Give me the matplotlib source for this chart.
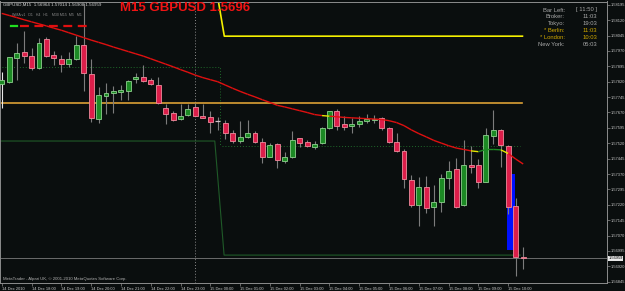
import matplotlib
matplotlib.use("Agg")
import matplotlib.pyplot as plt
from matplotlib.patches import Rectangle
from matplotlib.collections import LineCollection
from matplotlib.lines import Line2D

# GBPUSD M15, bars from 14 Dec 17:00 to 15 Dec 10:30
opens = [1.57807, 1.57820, 1.57937, 1.57963, 1.57945, 1.57885, 1.58029, 1.57948, 1.57929, 1.57905,
         1.57929, 1.57999, 1.57857, 1.57636, 1.57750, 1.57763, 1.57770, 1.57776, 1.57831, 1.57841,
         1.57828, 1.57804, 1.57690, 1.57666, 1.57636, 1.57656, 1.57695, 1.57653, 1.57646, 1.57626,
         1.57617, 1.57571, 1.57532, 1.57552, 1.57568, 1.57527, 1.57454, 1.57515, 1.57435, 1.57451,
         1.57544, 1.57526, 1.57500, 1.57520, 1.57596, 1.57675, 1.57614, 1.57604, 1.57612, 1.57628,
         1.57632, 1.57641, 1.57593, 1.57524, 1.57482, 1.57341, 1.57219, 1.57305, 1.57211, 1.57232,
         1.57349, 1.57393, 1.57219, 1.57414, 1.57414, 1.57332, 1.57557, 1.57584, 1.57506, 1.57214,
         1.56964]
highs = [1.57868, 1.57942, 1.58007, 1.58067, 1.57983, 1.58033, 1.58036, 1.57969, 1.57950, 1.57966,
         1.58042, 1.58202, 1.57929, 1.57792, 1.57815, 1.57799, 1.57804, 1.57828, 1.57864, 1.57901,
         1.57836, 1.57844, 1.57711, 1.57677, 1.57711, 1.57711, 1.57717, 1.57711, 1.57678, 1.57648,
         1.57633, 1.57584, 1.57630, 1.57633, 1.57581, 1.57544, 1.57520, 1.57520, 1.57479, 1.57579,
         1.57547, 1.57536, 1.57532, 1.57597, 1.57678, 1.57685, 1.57653, 1.57641, 1.57653, 1.57662,
         1.57657, 1.57646, 1.57600, 1.57568, 1.57490, 1.57365, 1.57357, 1.57360, 1.57316, 1.57368,
         1.57433, 1.57446, 1.57536, 1.57506, 1.57443, 1.57596, 1.57682, 1.57588, 1.57511, 1.57254,
         1.57014]
lows = [1.57690, 1.57815, 1.57828, 1.57912, 1.57877, 1.57880, 1.57942, 1.57901, 1.57868, 1.57893,
        1.57925, 1.57776, 1.57625, 1.57620, 1.57662, 1.57666, 1.57731, 1.57731, 1.57815, 1.57820,
        1.57804, 1.57711, 1.57612, 1.57630, 1.57633, 1.57653, 1.57651, 1.57641, 1.57568, 1.57584,
        1.57539, 1.57522, 1.57522, 1.57544, 1.57520, 1.57422, 1.57452, 1.57401, 1.57425, 1.57449,
        1.57503, 1.57500, 1.57490, 1.57516, 1.57588, 1.57584, 1.57584, 1.57568, 1.57600, 1.57617,
        1.57617, 1.57584, 1.57520, 1.57479, 1.57304, 1.57208, 1.57118, 1.57181, 1.57118, 1.57186,
        1.57295, 1.57203, 1.57214, 1.57376, 1.57303, 1.57330, 1.57516, 1.57405, 1.57175, 1.56873,
        1.56908]
closes = [1.57828, 1.57939, 1.57958, 1.57945, 1.57885, 1.58007, 1.57946, 1.57934, 1.57906, 1.57929,
          1.57999, 1.57861, 1.57641, 1.57755, 1.57766, 1.57774, 1.57779, 1.57823, 1.57843, 1.57825,
          1.57807, 1.57714, 1.57661, 1.57633, 1.57654, 1.57688, 1.57653, 1.57643, 1.57625, 1.57627,
          1.57571, 1.57532, 1.57549, 1.57568, 1.57527, 1.57454, 1.57511, 1.57438, 1.57451, 1.57536,
          1.57522, 1.57506, 1.57516, 1.57593, 1.57675, 1.57605, 1.57597, 1.57614, 1.57628, 1.57638,
          1.57639, 1.57593, 1.57524, 1.57483, 1.57344, 1.57219, 1.57305, 1.57203, 1.57232, 1.57349,
          1.57386, 1.57211, 1.57414, 1.57405, 1.57332, 1.57560, 1.57584, 1.57511, 1.57211, 1.56964,
          1.56959]

# moving average (colour changes on a few segments)
wma = [1.58153, 1.58143, 1.58133, 1.58122, 1.58112, 1.58102, 1.58092, 1.58081, 1.58071, 1.58059,
       1.58047, 1.58035, 1.58023, 1.58012, 1.58001, 1.57989, 1.57978, 1.57967, 1.57956, 1.57945,
       1.57932, 1.57919, 1.57906, 1.57893, 1.57879, 1.57866, 1.57852, 1.57840, 1.57830, 1.57820,
       1.57804, 1.57788, 1.57773, 1.57759, 1.57746, 1.57732, 1.57719, 1.57705, 1.57697, 1.57688,
       1.57679, 1.57670, 1.57660, 1.57655, 1.57652, 1.57649, 1.57646, 1.57644, 1.57642, 1.57640,
       1.57638, 1.57636, 1.57630, 1.57621, 1.57606, 1.57585, 1.57567, 1.57551, 1.57534, 1.57521,
       1.57508, 1.57497, 1.57490, 1.57483, 1.57479, 1.57490, 1.57490, 1.57488, 1.57470, 1.57443,
       1.57419]
wma_yellow = [43, 63, 67]
wma_green = [64, 65, 66]

orange_level = 1.57714
yellow_level = 1.58042
yellow_prev = 1.58230
box_top = 1.57890
box_mid = 1.57506
range_hi = 1.57531
range_lo = 1.56975
blue_lo, blue_hi = 1.57002, 1.57370
bid = 1.56959
day_sep = 26

time_labels = ["14 Dec 2010", "14 Dec 18:00", "14 Dec 19:00", "14 Dec 20:00", "14 Dec 21:00",
               "14 Dec 22:00", "14 Dec 23:00", "15 Dec 00:00", "15 Dec 01:00", "15 Dec 02:00",
               "15 Dec 03:00", "15 Dec 04:00", "15 Dec 05:00", "15 Dec 06:00", "15 Dec 07:00",
               "15 Dec 08:00", "15 Dec 09:00", "15 Dec 10:00"]
price_ticks = [1.58195, 1.58120, 1.58045, 1.57970, 1.57895, 1.57820, 1.57745, 1.57670, 1.57595,
               1.57520, 1.57445, 1.57370, 1.57295, 1.57220, 1.57145, 1.57070, 1.56995, 1.56920,
               1.56845]

info_labels = ["Bar Left:", "Broker:", "Tokyo:", "* Berlin:", "* London:", "New York:"]
info_values = ["[ 11:50 ]", "11:03", "19:03", "11:03", "10:03", "05:03"]
info_gold = [False, False, False, True, True, False]

BG = "#0a0e0e"
W, H = 625, 291

def fx(x):
    return x / W

def fy(y):
    return 1 - y / H

fig = plt.figure(figsize=(6.25, 2.91), dpi=100, facecolor=BG)
ax = fig.add_axes([0.0, fy(283), fx(607), (283 - 1.5) / H], facecolor=BG)
ax.set_xlim(-0.23, 81.25)
ax.set_ylim(1.56839, 1.58211)

n = len(opens)

# background studies
ax.axvline(day_sep, color="#8a8a8a", lw=0.7, ls=(0, (1, 2)), zorder=1)
ax.plot([-0.3, 28.6, 29.85, 69.6], [range_hi, range_hi, range_lo, range_lo],
        color="#1f5a28", lw=0.8, zorder=1)
ax.plot([-0.3, 29.3, 29.3], [box_top, box_top, box_mid], color="#1f6a2a", lw=0.7,
        ls=(0, (1, 2)), zorder=1)
ax.plot([29.6, 69.6], [box_mid, box_mid], color="#1f6a2a", lw=0.7, ls=(0, (1, 2)), zorder=1)
ax.axhline(bid, color="#7a7a7a", lw=0.6, zorder=1)
ax.plot([-0.3, 69.9], [orange_level, orange_level], color="#dca035", lw=1.2, zorder=2)
ax.plot([29.0, 29.88, 69.9], [yellow_prev, yellow_level, yellow_level], color="#f5f000",
        lw=1.2, zorder=2)
ax.add_patch(Rectangle((67.87, blue_lo), 1.03, blue_hi - blue_lo, facecolor="#0010ff",
                       edgecolor="none", zorder=2))

# candles
for i in range(n):
    o, h, l, c = opens[i], highs[i], lows[i], closes[i]
    wick = "#e8e8e8" if i == 0 else "#7c7c7c"
    ax.vlines(i, l, h, color=wick, lw=0.8, zorder=3)
    if abs(c - o) < 0.00003:
        ax.hlines(c, i - 0.33, i + 0.33, color="#d0c0c8", lw=0.9, zorder=4)
        continue
    if c > o:
        fc, ec = "#1c8a24", "#8fd08f"
    else:
        fc, ec = "#dc1e4a", "#f08a9c"
    ax.add_patch(Rectangle((i - 0.33, min(o, c)), 0.66, abs(c - o), facecolor=fc,
                           edgecolor=ec, lw=0.6, zorder=4))

# moving average
segs, cols = [], []
for i in range(n - 1):
    segs.append([(i, wma[i]), (i + 1, wma[i + 1])])
    if i in wma_yellow:
        cols.append("#e6e600")
    elif i in wma_green:
        cols.append("#1f8a24")
    else:
        cols.append("#e01010")
ax.add_collection(LineCollection(segs, colors=cols, linewidths=1.0, zorder=5))

# axes styling
for s in ax.spines.values():
    s.set_color("#8c8c8c")
    s.set_linewidth(0.7)
ax.yaxis.tick_right()
ax.set_yticks(price_ticks)
ax.set_yticklabels(["%.5f" % p for p in price_ticks])
ax.set_xticks(range(0, 4 * len(time_labels), 4))
ax.set_xticklabels(time_labels)
for lbl in ax.get_xticklabels():
    lbl.set_ha("left")
ax.tick_params(axis="both", colors="#8c8c8c", labelcolor="#c8c8c8", labelsize=2.9,
               length=2.0, width=0.5, pad=0.8)
for lbl in ax.get_xticklabels() + ax.get_yticklabels():
    lbl.set_family("Liberation Sans")

ax.text(1.002, bid, "%.5f" % bid, transform=ax.get_yaxis_transform(), fontsize=2.9,
        color="#000000", va="center", ha="left", family="Liberation Sans",
        bbox=dict(facecolor="#e8e8e8", edgecolor="none", pad=0.5), zorder=6, clip_on=False)

# overlay texts
fig.text(fx(3), fy(4.5), "GBPUSD,M15  1.56964 1.57014 1.56908 1.56959", fontsize=3.2,
         color="#d8d8d8", va="center", ha="left", family="Liberation Sans")
fig.text(fx(120), fy(8), "M15 GBPUSD 1.5696", fontsize=9.5, fontweight="bold",
         color="#f01414", va="center", ha="left", family="Liberation Sans")
fig.text(fx(12), fy(15), "WMA v1   D1   H4   H1    M30 M15  M5   M1", fontsize=2.6,
         color="#8a8a8a", va="center", ha="left", family="Liberation Sans")
fig.add_artist(Line2D([fx(11), fx(17)], [fy(26), fy(26)], color="#20e020", lw=1.6))
fig.add_artist(Line2D([fx(20), fx(92)], [fy(26), fy(26)], color="#e01010", lw=1.6,
                      ls=(0, (4, 2.5))))
for k in range(len(info_labels)):
    col = "#d0a800" if info_gold[k] else "#a8a8a8"
    yy = fy(10 + 6.9 * k)
    fig.text(fx(565), yy, info_labels[k], fontsize=4.2, color=col, va="center", ha="right",
             family="Liberation Sans")
    fig.text(fx(597), yy, info_values[k], fontsize=4.2, color=col, va="center", ha="right",
             family="Liberation Sans")
fig.text(fx(3), fy(279), "MetaTrader - Alpari UK, \u00a9 2001-2010 MetaQuotes Software Corp.",
         fontsize=3.1, color="#b0b0b0", va="center", ha="left", family="Liberation Sans")

fig.savefig("out.png", dpi=100, facecolor=BG)
